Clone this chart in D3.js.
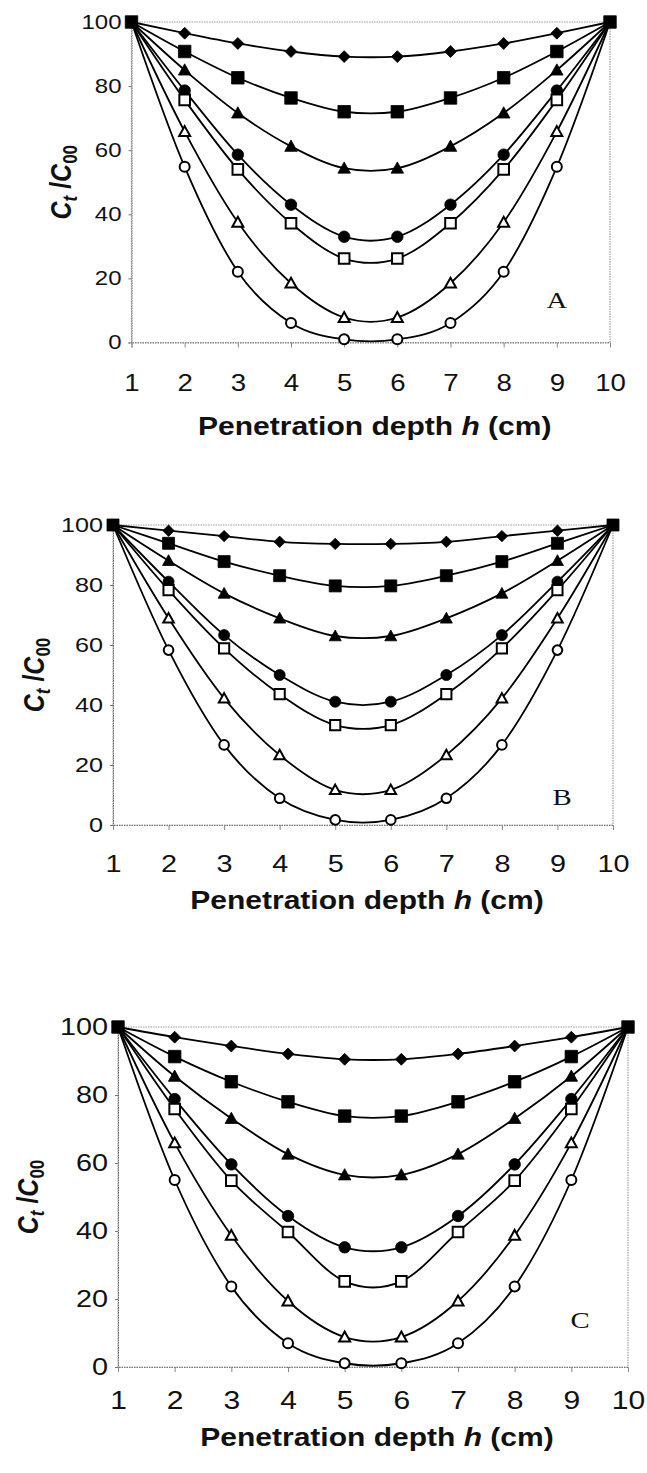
<!DOCTYPE html>
<html>
<head>
<meta charset="utf-8">
<script src="https://cdn.jsdelivr.net/npm/d3@7"></script>
<style>
  body { margin: 0; background: #fff; }
  svg { display: block; }
</style>
</head>
<body>
<script>
var width = 647;
var height = 1473;

var depths = [1, 2, 3, 4, 5, 6, 7, 8, 9, 10];
var yTicks = [0, 20, 40, 60, 80, 100];

// panel A
var aDiamond = [100, 96.5, 93.3, 90.8, 89.2, 89.2, 90.8, 93.3, 96.5, 100];
var aSquare = [100, 90.8, 82.6, 76.3, 72.0, 72.0, 76.3, 82.6, 90.8, 100];
var aTriangle = [100, 85.0, 71.6, 61.2, 54.4, 54.4, 61.2, 71.6, 85.0, 100];
var aCircle = [100, 78.6, 58.6, 43.0, 33.0, 33.0, 43.0, 58.6, 78.6, 100];
var aOpenSquare = [100, 75.7, 54.0, 37.2, 26.2, 26.2, 37.2, 54.0, 75.7, 100];
var aOpenTriangle = [100, 65.8, 37.5, 18.5, 7.8, 7.8, 18.5, 37.5, 65.8, 100];
var aOpenCircle = [100, 54.8, 22.1, 6.1, 1.0, 1.0, 6.1, 22.1, 54.8, 100];

// panel B
var bDiamond = [100, 98.1, 96.3, 94.4, 93.7, 93.7, 94.4, 96.3, 98.1, 100];
var bSquare = [100, 93.9, 87.8, 83.1, 79.7, 79.7, 83.1, 87.8, 93.9, 100];
var bTriangle = [100, 88.1, 77.2, 68.9, 63.0, 63.0, 68.9, 77.2, 88.1, 100];
var bCircle = [100, 81.1, 63.3, 50.0, 41.1, 41.1, 50.0, 63.3, 81.1, 100];
var bOpenSquare = [100, 78.3, 58.9, 43.6, 33.3, 33.3, 43.6, 58.9, 78.3, 100];
var bOpenTriangle = [100, 68.9, 42.2, 23.3, 11.7, 11.7, 23.3, 42.2, 68.9, 100];
var bOpenCircle = [100, 58.3, 26.7, 8.9, 1.7, 1.7, 8.9, 26.7, 58.3, 100];

// panel C
var cDiamond = [100, 97.0, 94.4, 92.1, 90.5, 90.5, 92.1, 94.4, 97.0, 100];
var cSquare = [100, 91.3, 83.9, 78.0, 73.8, 73.8, 78.0, 83.9, 91.3, 100];
var cTriangle = [100, 85.5, 73.1, 62.6, 56.5, 56.5, 62.6, 73.1, 85.5, 100];
var cCircle = [100, 78.8, 59.6, 44.4, 35.2, 35.2, 44.4, 59.6, 78.8, 100];
var cOpenSquare = [100, 75.9, 54.8, 39.7, 25.2, 25.2, 39.7, 54.8, 75.9, 100];
var cOpenTriangle = [100, 65.9, 38.7, 19.4, 8.8, 8.8, 19.4, 38.7, 65.9, 100];
var cOpenCircle = [100, 55.0, 23.7, 7.0, 1.1, 1.1, 7.0, 23.7, 55.0, 100];

var markerKinds = ['diamond', 'square', 'triangle', 'circle', 'openSquare', 'openTriangle', 'openCircle'];

// the scanned figure is wider than it is tall, text comes out stretched
var stretch = 1.2;

var panels = [
  { label: 'A', series: [aDiamond, aSquare, aTriangle, aCircle, aOpenSquare, aOpenTriangle, aOpenCircle],
    left: 131.5, right: 610, top: 22, bottom: 342.5,
    yTickSize: 20, xTickSize: 23, titleSize: 25, xTickY: 383, titleY: 426, yTitleX: 60, ms: 12.5,
    labelX: 557, labelY: 300 },
  { label: 'B', series: [bDiamond, bSquare, bTriangle, bCircle, bOpenSquare, bOpenTriangle, bOpenCircle],
    left: 113, right: 613, top: 525, bottom: 825,
    yTickSize: 21, xTickSize: 24, titleSize: 25, xTickY: 864, titleY: 900, yTitleX: 33, ms: 12,
    labelX: 562, labelY: 797 },
  { label: 'C', series: [cDiamond, cSquare, cTriangle, cCircle, cOpenSquare, cOpenTriangle, cOpenCircle],
    left: 118, right: 628, top: 1027, bottom: 1367,
    yTickSize: 24, xTickSize: 25, titleSize: 25, xTickY: 1400, titleY: 1437, yTitleX: 27, ms: 12.5,
    labelX: 580, labelY: 1320 }
];

var svg = d3.select('body').append('svg')
  .attr('width', width)
  .attr('height', height);

var markerPath = function(kind, cx, cy, s) {
  var h = s / 2;
  if (kind == 'diamond') {
    var d = h * 0.95;
    return 'M' + cx + ',' + (cy - d) + 'L' + (cx + d) + ',' + cy + 'L' + cx + ',' + (cy + d) + 'L' + (cx - d) + ',' + cy + 'Z';
  }
  if (kind == 'square' || kind == 'openSquare') {
    var q = kind == 'square' ? h : h * 0.85;
    return 'M' + (cx - q) + ',' + (cy - q) + 'h' + (2 * q) + 'v' + (2 * q) + 'h' + (-2 * q) + 'Z';
  }
  if (kind == 'triangle' || kind == 'openTriangle') {
    var t = kind == 'triangle' ? h : h * 0.88;
    return 'M' + cx + ',' + (cy - t) + 'L' + (cx + t) + ',' + (cy + t * 0.8) + 'L' + (cx - t) + ',' + (cy + t * 0.8) + 'Z';
  }
  var r = kind == 'circle' ? h * 0.92 : h * 0.8;
  return 'M' + (cx - r) + ',' + cy + 'a' + r + ',' + r + ' 0 1,0 ' + (2 * r) + ',0a' + r + ',' + r + ' 0 1,0 ' + (-2 * r) + ',0Z';
};

var drawPanel = function(p) {
  var x = d3.scaleLinear().domain([1, 10]).range([p.left, p.right]);
  var y = d3.scaleLinear().domain([0, 100]).range([p.bottom, p.top]);
  var g = svg.append('g').attr('class', 'panel' + p.label);

  // plot frame
  g.append('rect')
    .attr('x', p.left).attr('y', p.top)
    .attr('width', p.right - p.left).attr('height', p.bottom - p.top)
    .attr('fill', 'none')
    .attr('stroke', '#a0a0a0')
    .attr('stroke-width', 1.2)
    .attr('stroke-dasharray', '1.5,1');

  var yAxis = d3.axisLeft(y).tickValues(yTicks).tickSize(3).tickPadding(7);
  var yG = g.append('g')
    .attr('transform', 'translate(' + p.left + ',0)')
    .call(yAxis);
  yG.select('.domain').attr('stroke', '#666').attr('stroke-dasharray', '1.5,1');
  yG.selectAll('.tick line').attr('stroke', '#777');
  yG.selectAll('.tick text')
    .attr('x', -10 / stretch)
    .attr('transform', 'scale(' + stretch + ',1)')
    .attr('font-family', 'Liberation Sans, Arial, sans-serif')
    .attr('font-size', p.yTickSize)
    .attr('fill', '#111');

  var xAxis = d3.axisBottom(x).tickValues(depths).tickSize(5).tickFormat(d3.format('d'));
  var xG = g.append('g')
    .attr('transform', 'translate(0,' + p.bottom + ')')
    .call(xAxis);
  xG.select('.domain').attr('stroke', '#777').attr('stroke-dasharray', '1.5,1');
  xG.selectAll('.tick line').attr('stroke', '#888');
  xG.selectAll('.tick text')
    .attr('y', p.xTickY - p.bottom)
    .attr('dy', '0.35em')
    .attr('transform', 'scale(' + stretch + ',1)')
    .attr('font-family', 'Liberation Sans, Arial, sans-serif')
    .attr('font-size', p.xTickSize)
    .attr('fill', '#111');

  // x title
  var xt = g.append('text')
    .attr('transform', 'translate(' + ((p.left + p.right) / 2 + 4) + ',' + p.titleY + ') scale(' + stretch + ',1)')
    .attr('dy', '0.35em')
    .attr('text-anchor', 'middle')
    .attr('font-family', 'Liberation Sans, Arial, sans-serif')
    .attr('font-weight', 'bold')
    .attr('font-size', p.titleSize)
    .attr('fill', '#111');
  xt.append('tspan').text('Penetration depth ');
  xt.append('tspan').attr('font-style', 'italic').text('h');
  xt.append('tspan').text(' (cm)');

  // y title
  var yt = g.append('text')
    .attr('transform', 'translate(' + p.yTitleX + ',' + (p.top + p.bottom) / 2 + ') rotate(-90) scale(1,' + stretch + ')')
    .attr('text-anchor', 'middle')
    .attr('dy', '0.35em')
    .attr('font-family', 'Liberation Sans, Arial, sans-serif')
    .attr('font-weight', 'bold')
    .attr('font-size', 25)
    .attr('fill', '#111');
  yt.append('tspan').attr('font-style', 'italic').text('C');
  yt.append('tspan').attr('font-style', 'italic').attr('font-size', 17).attr('dy', 5).text('t');
  yt.append('tspan').attr('dy', -5).text(' /');
  yt.append('tspan').attr('font-style', 'italic').text('C');
  yt.append('tspan').attr('font-size', 17).attr('dy', 5).text('00');

  // panel letter
  g.append('text')
    .attr('transform', 'translate(' + p.labelX + ',' + p.labelY + ') scale(' + stretch + ',1)')
    .attr('dy', '0.35em')
    .attr('text-anchor', 'middle')
    .attr('font-family', 'Liberation Serif, Times New Roman, serif')
    .attr('font-size', 24)
    .attr('fill', '#111')
    .text(p.label);

  var line = d3.line()
    .x(function(d, i) { return x(depths[i]); })
    .y(function(d) { return y(d); })
    .curve(d3.curveCatmullRom.alpha(0));

  p.series.forEach(function(values) {
    g.append('path')
      .datum(values)
      .attr('d', line)
      .attr('fill', 'none')
      .attr('stroke', '#000')
      .attr('stroke-width', 1.8);
  });

  // markers; the end points (1 and 10) show only the filled square
  p.series.forEach(function(values, si) {
    var kind = markerKinds[si];
    if (kind == 'square') return;
    var open = kind.indexOf('open') == 0;
    g.selectAll('.m' + si)
      .data(values.slice(1, -1))
      .enter()
      .append('path')
      .attr('class', 'm' + si)
      .attr('d', function(d, i) { return markerPath(kind, x(depths[i + 1]), y(d), p.ms); })
      .attr('fill', open ? '#fff' : '#000')
      .attr('stroke', '#000')
      .attr('stroke-width', open ? 2 : 0.8);
  });
  g.selectAll('.msq')
    .data(p.series[1])
    .enter()
    .append('path')
    .attr('class', 'msq')
    .attr('d', function(d, i) { return markerPath('square', x(depths[i]), y(d), p.ms); })
    .attr('fill', '#000')
    .attr('stroke', '#000')
    .attr('stroke-width', 0.8);
};

panels.forEach(drawPanel);
</script>
</body>
</html>
